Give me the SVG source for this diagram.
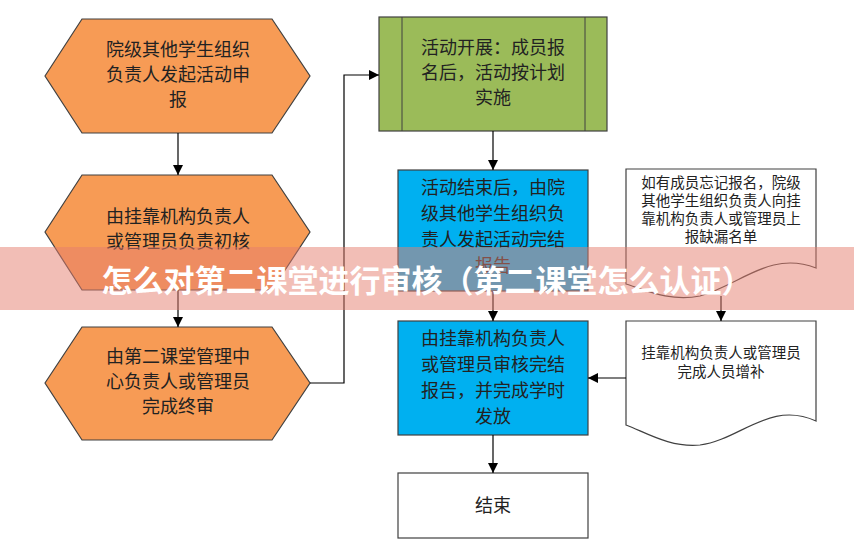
<svg xmlns="http://www.w3.org/2000/svg" width="854" height="559" viewBox="0 0 854 559">
<defs>
<marker id="ah" markerWidth="10" markerHeight="10" refX="10" refY="5" orient="auto" markerUnits="userSpaceOnUse"><path d="M0,0 L10,5 L0,10 z" fill="#000"/></marker>
<style>
.hex{fill:#f79b55;stroke:#404040;stroke-width:1.2}
.g{fill:#9bbb59;stroke:#404040;stroke-width:1.2}
.b{fill:#00b0f0;stroke:#404040;stroke-width:1.2}
.w{fill:#fff;stroke:#404040;stroke-width:1.2}
text{font-family:"Noto Sans CJK SC","Liberation Sans",sans-serif;font-size:18px;fill:#222;text-anchor:middle}
.s{font-size:14.5px}
.c{fill:none;stroke:#000;stroke-width:1.2;marker-end:url(#ah)}
</style>
</defs>
<rect width="854" height="559" fill="#fff"/>
<g id="n1"><polygon class="hex" points="45,76 82,19 272,19 310,76 272,133 82,133"/>
<text x="178" y="56">院级其他学生组织</text><text x="178" y="81">负责人发起活动申</text><text x="178" y="106">报</text></g>
<g id="n2"><polygon class="hex" points="45,232 82,175 272,175 310,232 272,290 82,290"/>
<text x="178" y="223">由挂靠机构负责人</text><text x="178" y="248">或管理员负责初核</text></g>
<g id="n3"><polygon class="hex" points="45,383 82,327 272,327 310,383 272,440 82,440"/>
<text x="178" y="363">由第二课堂管理中</text><text x="178" y="388">心负责人或管理员</text><text x="178" y="413">完成终审</text></g>
<g id="n4"><rect class="g" x="379" y="17" width="228" height="114"/><line x1="402" y1="17" x2="402" y2="131" stroke="#404040"/><line x1="585" y1="17" x2="585" y2="131" stroke="#404040"/>
<text x="493" y="54">活动开展：成员报</text><text x="493" y="79">名后，活动按计划</text><text x="493" y="104">实施</text></g>
<g id="n5"><rect class="b" x="398" y="170" width="190" height="121"/>
<text x="493" y="194">活动结束后，由院</text><text x="493" y="220">级其他学生组织负</text><text x="493" y="246">责人发起活动完结</text><text x="493" y="272">报告</text></g>
<g id="n6"><path class="w" d="M626,169 H816 V268 C770,250 740,285 700,296 C670,302 645,290 626,284 Z"/>
<text class="s" x="721" y="188">如有成员忘记报名，院级</text><text class="s" x="721" y="206">其他学生组织负责人向挂</text><text class="s" x="721" y="224">靠机构负责人或管理员上</text><text class="s" x="721" y="242">报缺漏名单</text></g>
<g id="n7"><rect class="b" x="398" y="321" width="190" height="114"/>
<text x="493" y="345">由挂靠机构负责人</text><text x="493" y="371">或管理员审核完结</text><text x="493" y="397">报告，并完成学时</text><text x="493" y="423">发放</text></g>
<g id="n8"><path class="w" d="M626,321 H816 V421 C770,400 740,440 700,445 C670,448 645,432 626,425 Z"/>
<text class="s" x="721" y="358">挂靠机构负责人或管理员</text><text class="s" x="721" y="377">完成人员增补</text></g>
<g id="n9"><rect class="w" x="398" y="473" width="190" height="65"/><text x="493" y="512">结束</text></g>
<g id="connectors">
<path class="c" d="M178,133 V175"/>
<path class="c" d="M178,290 V327"/>
<path class="c" d="M310,383 H344 V75 H379"/>
<path class="c" d="M493,131 V170"/>
<path class="c" d="M493,291 V321"/>
<path class="c" d="M721,296 V321"/>
<path class="c" d="M626,378 H588"/>
<path class="c" d="M493,435 V473"/>
</g>
<rect x="0" y="247" width="854" height="63" fill="rgba(230,125,110,0.5)"/>
<text x="427" y="292" style="font-size:31px;font-weight:bold;fill:#fff">怎么对第二课堂进行审核（第二课堂怎么认证）</text>
</svg>
